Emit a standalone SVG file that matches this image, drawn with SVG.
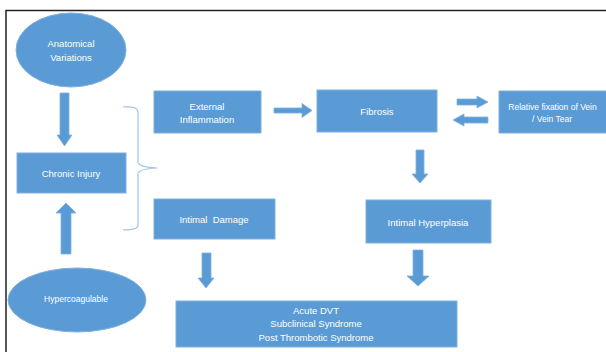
<svg xmlns="http://www.w3.org/2000/svg" width="606" height="352" viewBox="0 0 606 352">
<style>
.n{fill:#5b9bd5;stroke:#7fb0de;stroke-width:1}
.a{fill:#5b9bd5;stroke:#7fb0de;stroke-width:0.8}
.t{font-family:"Liberation Sans",Arial,sans-serif;font-size:9.5px;fill:#ffffff;text-anchor:middle}
.s{font-size:8.5px}
.br{fill:none;stroke:#9dc3e6;stroke-width:1.2}
</style>
<rect x="0" y="0" width="606" height="352" fill="#ffffff"/>
<path d="M6 352 V10.5 H606" fill="none" stroke="#222" stroke-width="1.5"/>
<g id="anatomical"><ellipse class="n" cx="71" cy="50" rx="55" ry="37"/><text class="t" x="71" y="47">Anatomical</text><text class="t" x="71" y="60.5">Variations</text></g>
<g id="chronic"><rect class="n" x="17" y="153" width="109" height="40"/><text class="t" x="71" y="176.5">Chronic Injury</text></g>
<g id="hyper"><ellipse class="n" cx="77" cy="300" rx="69" ry="32"/><text class="t s" x="76" y="302">Hypercoagulable</text></g>
<g id="external"><rect class="n" x="154" y="91" width="107" height="42"/><text class="t" x="207" y="109.5">External</text><text class="t" x="207" y="122.5">Inflammation</text></g>
<g id="fibrosis"><rect class="n" x="317" y="90" width="120" height="42"/><text class="t" x="377" y="114.5">Fibrosis</text></g>
<g id="relative"><rect class="n" x="499" y="91" width="110" height="42"/><text class="t s" x="552.5" y="110">Relative fixation of Vein</text><text class="t s" x="552" y="121.5">/  Vein Tear</text></g>
<g id="intimal-damage"><rect class="n" x="154" y="199" width="121" height="40"/><text class="t" x="214" y="222.5" xml:space="preserve">Intimal  Damage</text></g>
<g id="intimal-hyperplasia"><rect class="n" x="366" y="200" width="125" height="43"/><text class="t" x="428" y="225.5">Intimal Hyperplasia</text></g>
<g id="outcome"><rect class="n" x="176" y="301" width="281" height="46"/><text class="t" x="316" y="313.5">Acute DVT</text><text class="t" x="316" y="327">Subclinical Syndrome</text><text class="t" x="316" y="340.5">Post Thrombotic Syndrome</text></g>
<g id="connectors">
<path class="br" d="M123 107 Q138 106 138 112 V162 Q138 167 157 168 Q138 169 138 174 V225 Q138 230 123 230"/>
<path class="a" d="M60 93 H69 V135 H72 L64.5 146 L57 135 H60 Z"/>
<path class="a" d="M61 254 H71 V213 H76 L66 203 L56 213 H61 Z"/>
<path class="a" d="M274 108 H302 V103.5 L312 110.5 L302 117.5 V113 H274 Z"/>
<path class="a" d="M457 99 H477 V96 L488 102 L477 108 V105 H457 Z"/>
<path class="a" d="M488 117 H464 V114 L453 120 L464 126 V123 H488 Z"/>
<path class="a" d="M416 150 H424 V174 H428 L420 183 L412 174 H416 Z"/>
<path class="a" d="M413 250 H423 V276 H429 L418 286 L407 276 H413 Z"/>
<path class="a" d="M202 253 H211 V278 H214 L206 288 L198 278 H202 Z"/>
</g>
</svg>
